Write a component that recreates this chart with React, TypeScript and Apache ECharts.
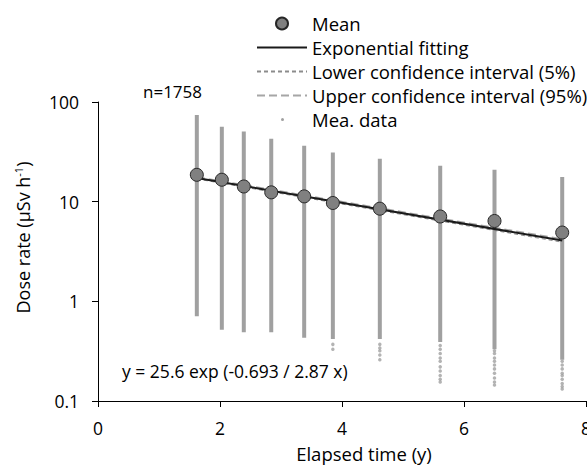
import React, { useEffect, useRef } from "react";
import * as echarts from "echarts";

// Elapsed time of each measurement campaign (y)
const times = [1.62, 2.03, 2.39, 2.84, 3.38, 3.85, 4.62, 5.61, 6.5, 7.61];
// Mean dose rate per campaign (µSv/h)
const meanRates = [18.6, 16.6, 14.2, 12.4, 11.3, 9.7, 8.5, 7.1, 6.4, 4.9];
// Dense measured-data range per campaign (lowest / highest of the solid column)
const dataLow = [0.71, 0.52, 0.49, 0.49, 0.43, 0.42, 0.42, 0.39, 0.33, 0.26];
const dataHigh = [74, 56.6, 50.5, 42.7, 36.3, 31.1, 26.9, 22.9, 20.9, 17.7];
// Sparse low measured points below the solid columns
const tailDots: number[][] = [
  [],
  [],
  [],
  [],
  [],
  [0.37, 0.33],
  [0.37, 0.34, 0.32, 0.29, 0.26],
  [0.36, 0.33, 0.3, 0.27, 0.25, 0.22, 0.2, 0.18, 0.165, 0.155],
  [0.32, 0.3, 0.27, 0.25, 0.23, 0.21, 0.19, 0.17, 0.155, 0.145],
  [0.25, 0.23, 0.21, 0.19, 0.18, 0.165, 0.15, 0.14, 0.132],
];
// Fitted curve and confidence bounds (end points, straight on a log axis)
const fitX = [1.62, 7.61];
const fitY = [17.3, 4.07];
const lowerY = [16.9, 3.92];
const upperY = [17.7, 4.22];
// Axis ticks
const yTicks = [0.1, 1, 10, 100];
const xTicks = [0, 2, 4, 6, 8];

const FONT = "Open Sans";

export default function App() {
  const ref = useRef<HTMLDivElement>(null);
  useEffect(() => {
    if (!ref.current) return;
    const chart = echarts.init(ref.current, null, { renderer: "svg" });
    const rangeData = times.map((t, i) => [t, dataLow[i], dataHigh[i]]);
    const tailData: number[][] = [];
    tailDots.forEach((arr, i) => arr.forEach((v) => tailData.push([times[i], v])));
    const hiddenSymbol = { opacity: 0 };
    const option: any = {
      animation: false,
      backgroundColor: "#fff",
      textStyle: { fontFamily: FONT },
      grid: { left: 98, top: 102, right: 1, bottom: 64, containLabel: false, outerBoundsMode: "none" },
      legend: {
        orient: "vertical",
        left: 251,
        top: 9,
        itemWidth: 50,
        itemHeight: 12,
        itemGap: 5,
        textStyle: { fontFamily: FONT, fontSize: 18.5, color: "#000" },
        data: [
          { name: "Mean", icon: "circle" },
          { name: "Exponential fitting", itemStyle: hiddenSymbol },
          { name: "Lower confidence interval (5%)", itemStyle: hiddenSymbol },
          { name: "Upper confidence interval (95%)", itemStyle: hiddenSymbol },
          {
            name: "Mea. data",
            icon: "path://M0,0M50,12M24,6a1.5,1.5 0 1,0 3,0a1.5,1.5 0 1,0 -3,0z",
            itemStyle: { color: "#a0a0a0" },
          },
        ],
      },
      xAxis: {
        type: "value",
        min: xTicks[0],
        max: xTicks[xTicks.length - 1],
        interval: 2,
        name: "Elapsed time (y)",
        nameLocation: "middle",
        nameGap: 43,
        nameTextStyle: { fontFamily: FONT, fontSize: 18.5, color: "#000", padding: [0, 0, 0, 44] },
        axisLine: { lineStyle: { color: "#000", width: 1 } },
        axisTick: { show: true, length: 6, lineStyle: { color: "#000" } },
        axisLabel: { fontFamily: FONT, fontSize: 17.5, color: "#000", margin: 18 },
        splitLine: { show: false },
      },
      yAxis: {
        type: "log",
        logBase: 10,
        min: yTicks[0],
        max: yTicks[yTicks.length - 1],
        name: "Dose rate (µSv h{sup|-1})",
        nameLocation: "middle",
        nameRotate: 90,
        nameGap: 66,
        nameTextStyle: {
          fontFamily: FONT,
          fontSize: 18,
          color: "#000",
          padding: [0, 0, 0, 28],
          rich: { sup: { fontFamily: FONT, fontSize: 11, color: "#000", padding: [0, 0, 8, 0] } },
        },
        axisLine: { show: true, lineStyle: { color: "#000", width: 1 } },
        axisTick: { show: true, length: 6, lineStyle: { color: "#000" } },
        axisLabel: {
          fontFamily: FONT,
          fontSize: 17.5,
          color: "#000",
          margin: 19,
          formatter: (v: number) => String(v),
        },
        minorTick: { show: false },
        splitLine: { show: false },
      },
      series: [
        {
          name: "Mea. data",
          type: "custom",
          data: rangeData,
          encode: { x: 0, y: [1, 2] },
          itemStyle: { color: "#a0a0a0" },
          z: 1,
          renderItem: (params: any, api: any) => {
            const x = api.value(0);
            const lo = api.value(1);
            const hi = api.value(2);
            const p1 = api.coord([x, hi]);
            const p2 = api.coord([x, lo]);
            return {
              type: "rect",
              shape: { x: p1[0] - 2, y: p1[1], width: 4, height: p2[1] - p1[1] },
              style: { fill: "#a0a0a0" },
            };
          },
        },
        {
          name: "Mea. data",
          type: "scatter",
          data: tailData,
          symbol: "circle",
          symbolSize: 3.5,
          itemStyle: { color: "#a0a0a0" },
          z: 1,
        },
        {
          name: "Lower confidence interval (5%)",
          type: "line",
          data: fitX.map((x, i) => [x, lowerY[i]]),
          symbol: "none",
          itemStyle: { color: "#8c8c8c" },
          lineStyle: { color: "#8c8c8c", width: 1, type: [4, 3] },
          z: 2,
        },
        {
          name: "Upper confidence interval (95%)",
          type: "line",
          data: fitX.map((x, i) => [x, upperY[i]]),
          symbol: "none",
          itemStyle: { color: "#a6a6a6" },
          lineStyle: { color: "#a6a6a6", width: 1.5, type: [8, 4] },
          z: 2,
        },
        {
          name: "Exponential fitting",
          type: "line",
          data: fitX.map((x, i) => [x, fitY[i]]),
          symbol: "none",
          itemStyle: { color: "#1a1a1a" },
          lineStyle: { color: "#1a1a1a", width: 2 },
          z: 3,
        },
        {
          name: "Mean",
          type: "scatter",
          data: times.map((t, i) => [t, meanRates[i]]),
          symbol: "circle",
          symbolSize: 13,
          itemStyle: { color: "#808080", borderColor: "#262626", borderWidth: 1, opacity: 1 },
          z: 4,
        },
      ],
      graphic: [
        {
          type: "text",
          left: 143,
          top: 83,
          style: { text: "n=1758", font: `17px "${FONT}"`, fill: "#000" },
        },
        {
          type: "text",
          left: 122,
          top: 362,
          style: { text: "y = 25.6 exp (-0.693 / 2.87 x)", font: `17.5px "${FONT}"`, fill: "#000" },
        },
      ],
    };
    chart.setOption(option);
    return () => chart.dispose();
  }, []);
  return <div ref={ref} style={{ width: 587, height: 465, position: "absolute", left: 0, top: 0 }} />;
}
